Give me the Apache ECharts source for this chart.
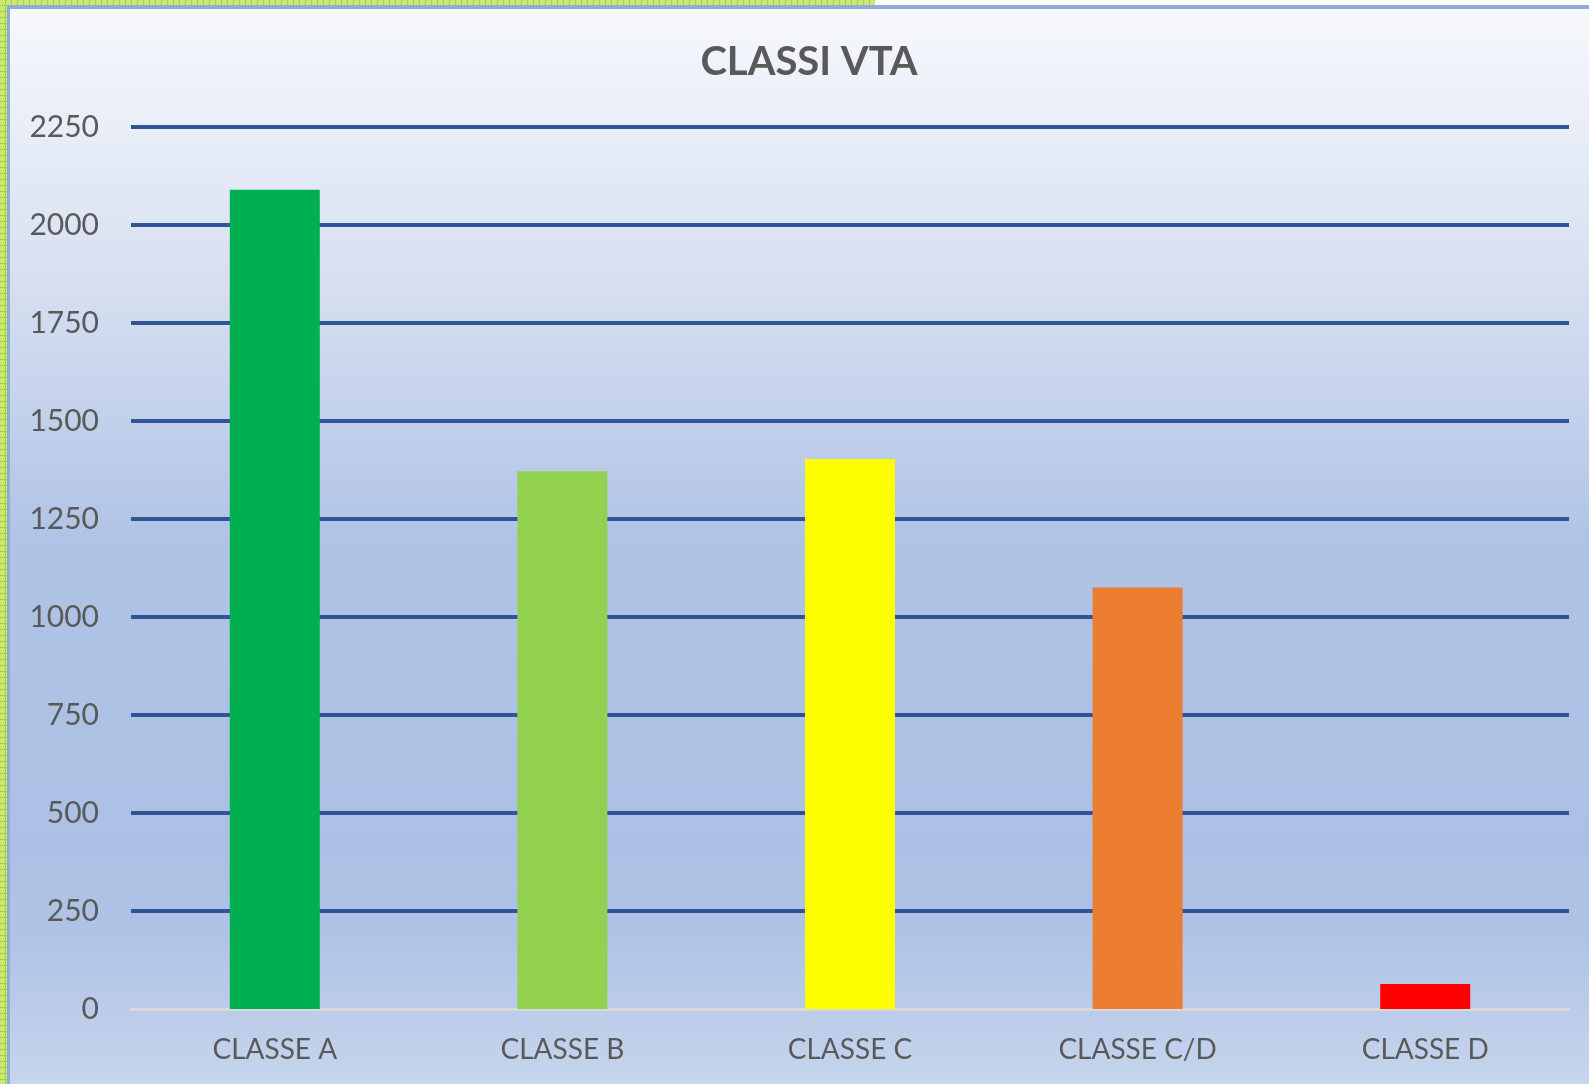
<!DOCTYPE html>
<html>
<head>
<meta charset="utf-8">
<title>CLASSI VTA</title>
<script src="https://cdn.jsdelivr.net/npm/echarts@6/dist/echarts.min.js"></script>
<style>
  html, body { margin: 0; padding: 0; background: #ffffff; }
  #chart { width: 1589px; height: 1084px; }
</style>
</head>
<body>
<div id="chart"></div>
<script>
// Chart data
const chartTitle = 'CLASSI VTA';
const categories = ['CLASSE A', 'CLASSE B', 'CLASSE C', 'CLASSE C/D', 'CLASSE D'];
const counts = [2090, 1372, 1403, 1075, 64];
const barColors = ['#00b050', '#92d050', '#ffff00', '#ed7d31', '#ff0000'];
const yTicks = { min: 0, max: 2250, interval: 250 };

// Small hatched tile for the green frame strips
function makeHatch() {
  const c = document.createElement('canvas');
  c.width = 6; c.height = 6;
  const g = c.getContext('2d');
  g.fillStyle = '#d6ee8e';
  g.fillRect(0, 0, 6, 6);
  g.fillStyle = '#bde05a';
  for (let y = 0; y < 6; y++) {
    for (let x = 0; x < 6; x++) {
      if ((x + y) % 2 === 0) g.fillRect(x, y, 1, 1);
    }
  }
  g.fillStyle = '#a9d13c';
  g.fillRect(0, 5, 6, 1);
  g.fillRect(5, 0, 1, 6);
  return c;
}

const chart = echarts.init(document.getElementById('chart'), null, { renderer: 'canvas' });
const hatch = { image: makeHatch(), repeat: 'repeat' };

const option = {
  backgroundColor: '#ffffff',
  animation: false,
  graphic: [
    {
      type: 'rect', z: -5, silent: true,
      shape: { x: 10, y: 9, width: 1579, height: 1075 },
      style: {
        fill: new echarts.graphic.LinearGradient(0, 0, 0, 1, [
          { offset: 0, color: '#f6f8fc' },
          { offset: 0.25, color: '#d7e0f1' },
          { offset: 0.5, color: '#afc3e5' },
          { offset: 0.78, color: '#abc0e4' },
          { offset: 0.86, color: '#afc3e5' },
          { offset: 1, color: '#c7d5ed' }
        ])
      }
    },
    { type: 'rect', z: -4, silent: true, shape: { x: 0, y: 0, width: 7, height: 1084 }, style: { fill: hatch } },
    { type: 'rect', z: -4, silent: true, shape: { x: 0, y: 0, width: 875, height: 5 }, style: { fill: hatch } },
    { type: 'rect', z: -4, silent: true, shape: { x: 7, y: 5, width: 1582, height: 4 }, style: { fill: '#8faadc' } },
    { type: 'rect', z: -4, silent: true, shape: { x: 7, y: 5, width: 3, height: 1079 }, style: { fill: '#8faadc' } }
  ],
  title: {
    text: chartTitle,
    left: 804,
    top: 37,
    textAlign: 'center',
    textStyle: {
      fontFamily: 'Lato',
      fontWeight: 'bold',
      fontSize: 40,
      color: '#595959'
    }
  },
  grid: {
    left: 131,
    right: 20,
    top: 127,
    bottom: 75,
    containLabel: false
  },
  xAxis: {
    type: 'category',
    data: categories,
    axisTick: { show: false },
    axisLine: { show: true, lineStyle: { color: '#d9d9d9', width: 3 } },
    axisLabel: {
      margin: 27,
      fontFamily: 'Lato',
      fontSize: 28,
      color: '#595959'
    }
  },
  yAxis: {
    type: 'value',
    min: yTicks.min,
    max: yTicks.max,
    interval: yTicks.interval,
    axisLine: { show: false },
    axisTick: { show: false },
    axisLabel: {
      margin: 32,
      fontFamily: 'Lato',
      fontSize: 30,
      color: '#595959',
      formatter: (v) => String(v)
    },
    splitLine: {
      show: true,
      showMinLine: false,
      lineStyle: { color: '#2f5597', width: 4 }
    }
  },
  series: [{
    type: 'bar',
    data: counts.map((v, i) => ({ value: v, itemStyle: { color: barColors[i] } })),
    barWidth: 90
  }]
};

chart.setOption(option);
</script>
</body>
</html>
